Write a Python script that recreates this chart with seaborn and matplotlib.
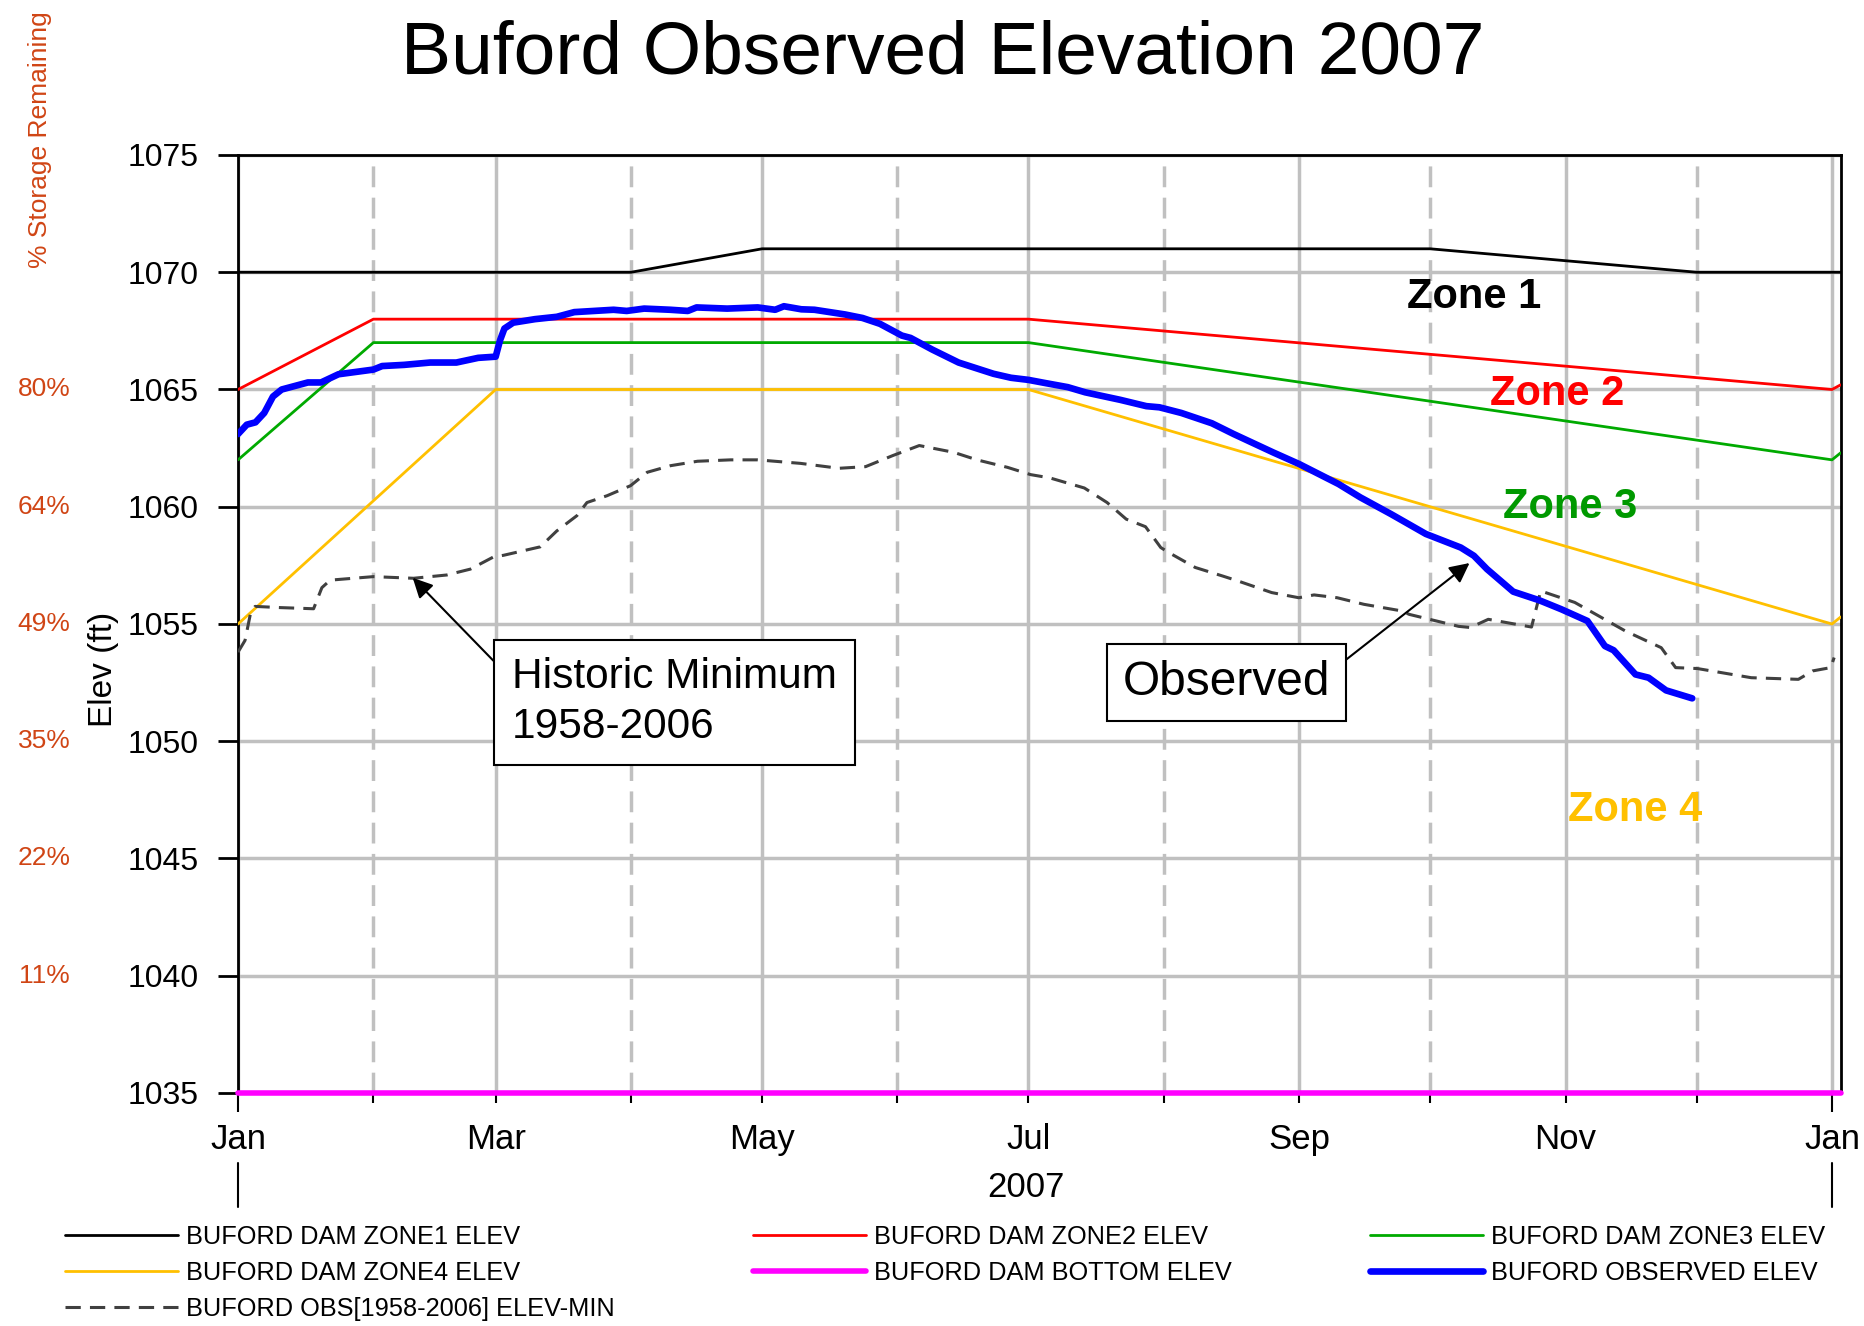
import matplotlib
matplotlib.use("Agg")
import matplotlib.pyplot as plt
import matplotlib.dates as mdates
import matplotlib.transforms as mtransforms
import numpy as np
import pandas as pd
import seaborn as sns

# ---- guide curves (ft) ----
zone1_dates = ['2007-01-01', '2007-04-01', '2007-05-01', '2007-10-01', '2007-12-01', '2008-01-03']
zone1_elev = [1070, 1070, 1071, 1071, 1070, 1070]

zone2_dates = ['2007-01-01', '2007-02-01', '2007-07-01', '2008-01-01', '2008-01-03']
zone2_elev = [1065, 1068, 1068, 1065, 1065.2]

zone3_dates = ['2007-01-01', '2007-02-01', '2007-07-01', '2008-01-01', '2008-01-03']
zone3_elev = [1062, 1067, 1067, 1062, 1062.3]

zone4_dates = ['2007-01-01', '2007-03-01', '2007-07-01', '2008-01-01', '2008-01-03']
zone4_elev = [1055, 1065, 1065, 1055, 1055.3]

bottom_dates = ['2007-01-01', '2008-01-03']
bottom_elev = [1035, 1035]

# ---- observed 2007 (days after Jan 1) ----
obs_days = [0, 2, 4, 6, 8, 10, 14, 16, 19, 23, 27, 31, 33, 38, 44, 50, 55, 59, 60, 61,
            63, 68, 73, 77, 86, 89, 93, 99, 103, 105, 112, 119, 123, 125, 129, 132, 139,
            143, 147, 152, 154, 159, 165, 167, 173, 177, 181, 185, 190, 194, 202, 208,
            211, 216, 223, 228, 237, 243, 252, 257, 264, 272, 280, 283, 286, 292, 298,
            303, 309, 313, 315, 320, 323, 327, 330, 333]
obs_elev = [1063.1, 1063.5, 1063.6, 1064.0, 1064.7, 1065.0, 1065.2, 1065.3, 1065.3, 1065.65,
            1065.75, 1065.85, 1066.0, 1066.05, 1066.15, 1066.15, 1066.35, 1066.4, 1067.1, 1067.6,
            1067.85, 1068.0, 1068.1, 1068.3, 1068.4, 1068.35, 1068.45, 1068.4, 1068.35, 1068.5,
            1068.45, 1068.5, 1068.4, 1068.55, 1068.42, 1068.4, 1068.2, 1068.05, 1067.8, 1067.3,
            1067.2, 1066.7, 1066.15, 1066.03, 1065.67, 1065.5, 1065.41, 1065.27, 1065.1, 1064.88,
            1064.56, 1064.29, 1064.24, 1064.0, 1063.56, 1063.1, 1062.32, 1061.82, 1060.97, 1060.4,
            1059.69, 1058.84, 1058.26, 1057.91, 1057.34, 1056.38, 1056.01, 1055.63, 1055.13, 1054.06,
            1053.88, 1052.85, 1052.71, 1052.17, 1052.0, 1051.83]

# ---- historic minimum 1958-2006 (days after Jan 1) ----
hist_days = [0, 1.6, 2.8, 3.9, 9.6, 17.3, 19.2, 21.1, 31, 40.2, 47.8, 53.2, 58.5, 60.8, 69.2,
             73, 77.6, 79.9, 84.5, 89.9, 93.7, 99, 105.2, 112.8, 119, 128.8, 137.6, 143.7,
             149.9, 156, 163.9, 169.2, 176.2, 181.5, 185.9, 193.8, 199, 203.4, 207.8, 211.3,
             213.1, 219.2, 225.4, 228.9, 236.7, 242.9, 246.4, 251.7, 257.8, 266.4, 268.2,
             279.5, 282.2, 286.3, 296.2, 298.3, 306.1, 317.7, 325.9, 329.2, 334.2, 346.5,
             357.3, 360.6, 364.7, 365.5]
hist_elev = [1053.8, 1054.3, 1055.4, 1055.75, 1055.7, 1055.65, 1056.55, 1056.87, 1057.02, 1056.95,
             1057.09, 1057.34, 1057.86, 1057.93, 1058.29, 1058.97, 1059.62, 1060.18, 1060.47, 1060.9,
             1061.47, 1061.75, 1061.94, 1062.0, 1062.0, 1061.85, 1061.64, 1061.71, 1062.18, 1062.61,
             1062.32, 1062.0, 1061.68, 1061.37, 1061.23, 1060.8, 1060.18, 1059.47, 1059.15, 1058.26,
             1058.05, 1057.41, 1057.05, 1056.84, 1056.34, 1056.12, 1056.24, 1056.12, 1055.84, 1055.56,
             1055.41, 1054.9, 1054.85, 1055.2, 1054.87, 1056.41, 1055.92, 1054.7, 1053.99, 1053.14,
             1053.1, 1052.71, 1052.64, 1053.0, 1053.14, 1053.57]

# storage % on the left
pct_labels = ['80%', '64%', '49%', '35%', '22%', '11%']
pct_elev = [1065, 1060, 1055, 1050, 1045, 1040]

start = pd.Timestamp('2007-01-01')
obs_dates = start + pd.to_timedelta(obs_days, unit='D')
hist_dates = start + pd.to_timedelta(hist_days, unit='D')

sns.set_style("ticks")
plt.rcParams['font.family'] = ['Liberation Sans', 'DejaVu Sans']
plt.rcParams.update({'text.color': 'black', 'axes.labelcolor': 'black',
                     'xtick.color': 'black', 'ytick.color': 'black'})

fig = plt.figure(figsize=(18.64, 13.26), dpi=100)
ax = fig.add_axes([0.1277, 1 - 1093 / 1326, 0.86, 938 / 1326])

line_kw = dict(ax=ax, estimator=None, sort=False)
sns.lineplot(x=pd.to_datetime(bottom_dates), y=bottom_elev, color='#FF00FF', lw=4,
             label='BUFORD DAM BOTTOM ELEV', zorder=3, clip_on=False, **line_kw)
sns.lineplot(x=pd.to_datetime(zone1_dates), y=zone1_elev, color='black', lw=2,
             label='BUFORD DAM ZONE1 ELEV', zorder=4, **line_kw)
sns.lineplot(x=pd.to_datetime(zone2_dates), y=zone2_elev, color='#FF0000', lw=2,
             label='BUFORD DAM ZONE2 ELEV', zorder=4, **line_kw)
sns.lineplot(x=pd.to_datetime(zone3_dates), y=zone3_elev, color='#00AA00', lw=2,
             label='BUFORD DAM ZONE3 ELEV', zorder=4, **line_kw)
sns.lineplot(x=pd.to_datetime(zone4_dates), y=zone4_elev, color='#FFC000', lw=2,
             label='BUFORD DAM ZONE4 ELEV', zorder=4, **line_kw)
sns.lineplot(x=hist_dates, y=hist_elev, color='#404040', lw=2.2, ls=(0, (5, 3)),
             label='BUFORD OBS[1958-2006] ELEV-MIN', zorder=5, **line_kw)
sns.lineplot(x=obs_dates, y=obs_elev, color='#0000FF', lw=4.8,
             label='BUFORD OBSERVED ELEV', zorder=6, **line_kw)

ax.set_xlim(pd.Timestamp('2007-01-01'), pd.Timestamp('2008-01-03 02:00'))
ax.set_ylim(1035, 1075)
ax.set_yticks(np.arange(1035, 1076, 5))

ax.xaxis.set_major_locator(mdates.MonthLocator(bymonth=[1, 3, 5, 7, 9, 11]))
ax.xaxis.set_minor_locator(mdates.MonthLocator(bymonth=[2, 4, 6, 8, 10, 12]))
ax.xaxis.set_major_formatter(mdates.DateFormatter('%b'))
ax.tick_params(axis='x', which='both', length=7.2, width=1.5, pad=14.5, labelsize=25)
ax.tick_params(axis='y', length=14.4, width=2, pad=14, labelsize=23)

ax.set_axisbelow(True)
ax.grid(which='major', axis='both', color='#C0C0C0', lw=2.5)
ax.grid(which='minor', axis='x', color='#C0C0C0', lw=2.5, ls=(0, (6, 3)))
for s in ax.spines.values():
    s.set_color('black')
    s.set_linewidth(2)

# longer ticks at the year ends
locs = ax.xaxis.get_majorticklocs()
for loc, t in zip(locs, ax.xaxis.get_major_ticks()):
    if mdates.num2date(loc).month == 1:
        t.tick1line.set_markersize(13.5)

ax.set_xlabel('2007', fontsize=25)
ax.xaxis.set_label_coords(0.4916, -0.083)
ax.set_ylabel('Elev (ft)', fontsize=24)
ax.yaxis.set_label_coords(-0.0745, 0.452)

# year bracket lines under the month labels
trans = mtransforms.blended_transform_factory(ax.transData, ax.transAxes)
for d in ['2007-01-01', '2008-01-01']:
    x = mdates.date2num(pd.Timestamp(d))
    ax.plot([x, x], [-0.0746, -0.1215], transform=trans, color='black', lw=1.5, clip_on=False)

# storage percent labels
transP = mtransforms.blended_transform_factory(fig.transFigure, ax.transData)
for lab, el in zip(pct_labels, pct_elev):
    ax.text(44 / 1864, el, lab, transform=transP, ha='center', va='center',
            fontsize=19, color='#D04515')
fig.text(40 / 1864, 1 - 140 / 1326, '% Storage Remaining', rotation=90, ha='center',
         va='center', fontsize=19, color='#D04515')

fig.text(943 / 1864, 1 - 73 / 1326, 'Buford Observed Elevation 2007', ha='center',
         va='baseline', fontsize=54)

# zone labels
d2n = lambda s: mdates.date2num(pd.Timestamp(s))
ax.text(d2n('2007-10-11'), 1068.93, 'Zone 1', color='black', fontsize=30, fontweight='bold',
        ha='center', va='center')
ax.text(d2n('2007-10-30'), 1064.8, 'Zone 2', color='#FF0000', fontsize=30, fontweight='bold',
        ha='center', va='center')
ax.text(d2n('2007-11-02'), 1060.0, 'Zone 3', color='#009900', fontsize=30, fontweight='bold',
        ha='center', va='center')
ax.text(d2n('2007-11-17'), 1047.05, 'Zone 4', color='#FFC000', fontsize=30, fontweight='bold',
        ha='center', va='center')

# callouts
ax.annotate('Historic Minimum\n1958-2006', xy=(d2n('2007-02-10'), 1056.97),
            xytext=(d2n('2007-04-10 22:00'), 1051.67), ha='center', va='center',
            multialignment='left', fontsize=30.5, linespacing=1.3, zorder=8,
            bbox=dict(boxstyle='square,pad=0.42', fc='white', ec='black', lw=1.5),
            arrowprops=dict(arrowstyle='-|>', color='black', lw=1.5, mutation_scale=30,
                            relpos=(0, 0.75), shrinkA=0, shrinkB=0))
ax.annotate('Observed', xy=(d2n('2007-10-10'), 1057.6),
            xytext=(d2n('2007-08-15 07:00'), 1052.5), ha='center', va='center',
            fontsize=34.5, zorder=8,
            bbox=dict(boxstyle='square,pad=0.33', fc='white', ec='black', lw=1.5),
            arrowprops=dict(arrowstyle='-|>', color='black', lw=1.5, mutation_scale=30,
                            relpos=(1, 0.73), shrinkA=0, shrinkB=0))

# legend, 3 columns filled row by row
handles, labels = ax.get_legend_handles_labels()
ax.get_legend().remove()
hmap = dict(zip(labels, handles))
order = ['BUFORD DAM ZONE1 ELEV', 'BUFORD DAM ZONE4 ELEV', 'BUFORD OBS[1958-2006] ELEV-MIN',
         'BUFORD DAM ZONE2 ELEV', 'BUFORD DAM BOTTOM ELEV',
         'BUFORD DAM ZONE3 ELEV', 'BUFORD OBSERVED ELEV']
fig.legend([hmap[k] for k in order], order, loc='upper left',
           bbox_to_anchor=(65 / 1864, 1 - 1225 / 1326), ncol=3, frameon=False,
           fontsize=18.3, borderpad=0, borderaxespad=0, handlelength=4.45,
           handletextpad=0.3, columnspacing=5.45, labelspacing=0.47)

fig.savefig('out.png', dpi=100)
